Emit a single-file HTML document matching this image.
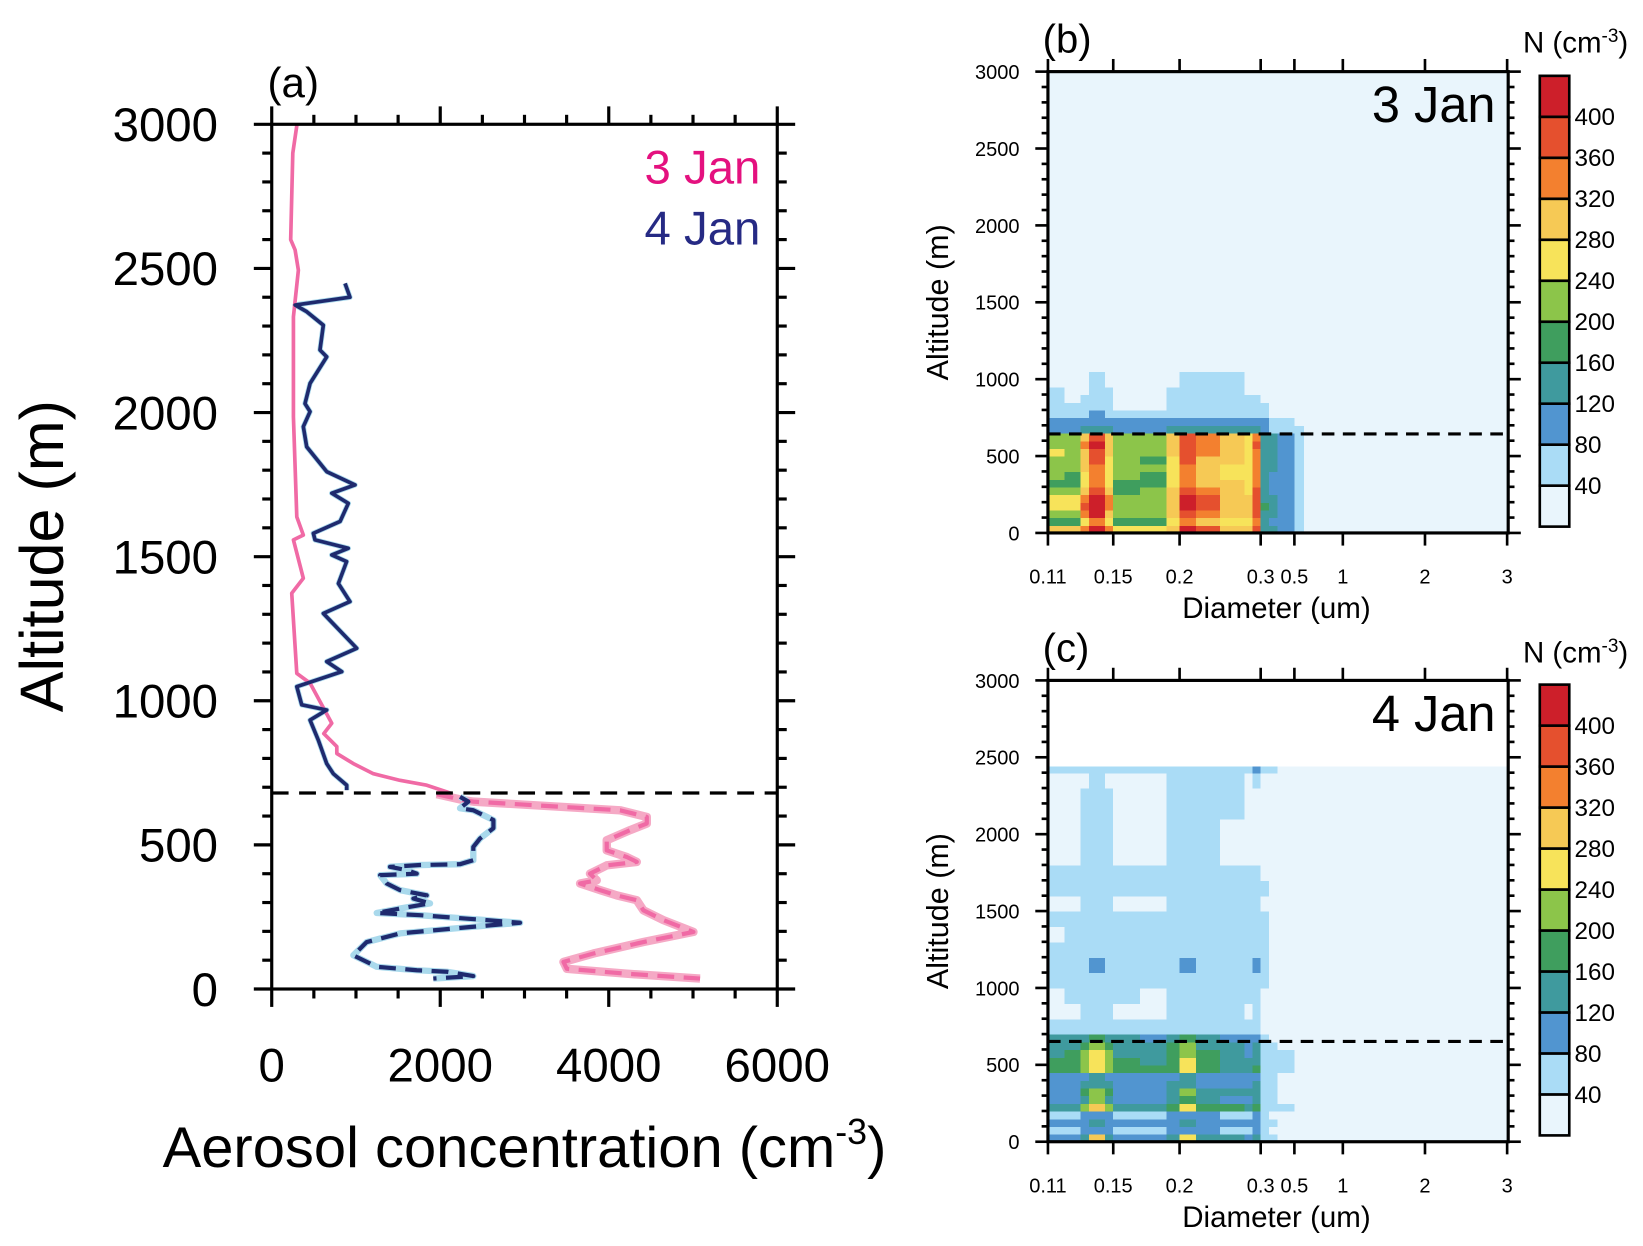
<!DOCTYPE html>
<html><head><meta charset="utf-8"><style>
html,body{margin:0;padding:0;background:#fff;}
svg{display:block;font-family:"Liberation Sans",sans-serif;}
</style></head><body>
<svg id="fig" width="1643" height="1246" viewBox="0 0 1560 1183" preserveAspectRatio="none" xmlns="http://www.w3.org/2000/svg">
<g id="pa"></g>
<g id="pb"></g>
<g id="pc"></g>
</svg>
<script>
// ---------- Panel (a) data ----------
const jan3SolidAlt  = [3000,2900,2600,2564,2494,2332,1985,1638,1575,1558,1425,1373,1095,1061,922,886,841,817,782,747,724,707,684,678];
const jan3SolidConc = [300,250,225,277,316,257,257,297,375,257,375,237,297,455,712,618,772,772,969,1206,1523,1840,2077,2136];
const jan3DashAlt  = [676,655,650,620,597,574,551,516,481,458,441,429,400,377,366,343,325,308,273,239,198,163,123,94,70,53,36];
const jan3DashConc = [1958,2274,2393,4134,4451,4451,4253,3976,3976,4214,4333,3976,3778,3858,3660,3897,4095,4333,4411,4649,5005,4411,3818,3462,3502,4214,5084];
const jan4SolidAlt  = [2448,2400,2373,2350,2303,2217,2193,2101,2031,2003,1951,1881,1795,1749,1720,1685,1622,1581,1558,1529,1506,1483,1407,1344,1303,1182,1136,1101,1049,986,968,933,864,782,747,707,690];
const jan4SolidConc = [870,929,277,415,613,573,653,455,395,455,375,415,653,989,712,909,811,494,514,909,712,889,791,929,613,1009,653,831,297,356,653,455,553,653,731,890,890];
const jan4DashAlt  = [667,650,627,620,586,558,522,493,447,433,430,424,412,400,395,366,343,325,314,297,279,264,256,239,230,216,193,163,117,77,65,60,45,36];
const jan4DashConc = [2235,2334,2235,2393,2631,2631,2473,2393,2393,2235,1760,1404,1602,1721,1286,1365,1523,1840,1681,1879,1523,1246,1760,2552,2948,2393,1523,1128,969,1246,1721,2077,2393,1918];
const aXTicks = [0,2000,4000,6000];
const aYTicks = [0,500,1000,1500,2000,2500,3000];
const aMLD = 680;

// ---------- Panels (b),(c) data ----------
const diamEdges = [0.11,0.12,0.13,0.135,0.145,0.15,0.17,0.19,0.2,0.22,0.25,0.28,0.29,0.3,0.35,0.4,0.5,0.6,0.7,1,3];
const dTickVals = [0.11,0.15,0.2,0.3,0.5,1,2,3];
const dTickLabels = ["0.11","0.15","0.2","0.3","0.5","1","2","3"];
const altTicks = [0,500,1000,1500,2000,2500,3000];
const cbLevels = [40,80,120,160,200,240,280,320,360,400];
const cbColors = ["#e9f5fc","#aadcf6","#5195d0","#3f9a9e","#3f9e5e","#8cc54a","#f7e35a","#f6c955","#f3802f","#e5502e","#cd1f2a"];

const altB = [0,50,100,150,200,250,300,350,400,450,500,550,600,650,700,750,800,850,900,950,1000,1050,1100];
const valB = [
[300,280,340,420,330,260,250,300,400,360,300,290,380,150,120,100,60,30,20,20],
[190,180,260,340,250,180,170,260,330,300,270,260,340,140,110,90,50,30,20,20],
[230,230,320,410,300,200,200,280,380,340,300,280,370,150,120,100,60,30,20,20],
[260,270,360,430,340,230,230,300,410,370,310,300,390,160,130,110,60,30,20,20],
[250,260,340,420,320,210,220,300,400,360,300,280,380,150,120,100,60,30,20,20],
[210,220,300,370,280,190,200,290,380,330,290,270,360,140,110,90,60,30,20,20],
[180,180,260,330,250,180,190,270,350,310,280,260,350,140,110,90,50,30,20,20],
[200,190,250,320,240,200,180,260,340,300,270,260,340,140,110,90,50,30,20,20],
[230,220,280,350,270,210,200,270,350,300,270,250,340,150,120,90,50,30,20,20],
[210,200,290,360,270,200,190,270,360,310,280,260,350,150,120,90,50,30,20,20],
[240,230,300,380,290,220,210,280,370,320,290,260,350,150,120,90,50,30,20,20],
[230,220,320,410,300,220,220,290,390,340,300,270,360,150,120,100,60,30,20,20],
[230,220,300,390,290,220,210,280,370,330,290,260,350,140,120,100,60,30,20,20],
[110,100,120,140,120,100,100,130,150,150,140,130,150,100,60,70,50,25,20,20],
[90,80,90,100,90,80,80,90,110,100,100,90,110,80,50,50,30,20,20,20],
[60,60,70,80,60,50,50,60,70,70,70,60,70,50,30,30,20,20,20,20],
[50,45,60,60,50,30,30,50,60,55,55,50,55,40,20,20,20,20,20,20],
[45,35,45,50,45,30,30,45,55,50,50,45,50,30,20,20,20,20,20,20],
[40,30,35,45,40,20,20,40,50,45,45,30,30,20,20,20,20,20,20,20],
[30,20,30,45,30,20,20,30,45,45,40,20,20,20,20,20,20,20,20,20],
[20,20,20,40,20,20,20,20,45,45,40,20,20,20,20,20,20,20,20,20],
[20,20,20,20,20,20,20,20,20,20,20,20,20,20,20,20,20,20,20,20]];
const mldB = 644;

const altC = [0,50,100,150,200,250,300,350,400,450,500,550,600,650,700,800,900,1000,1100,1200,1300,1400,1500,1600,1700,1800,1900,2000,2100,2200,2300,2400,2440];
const valC = [
[80,80,150,280,150,90,90,150,250,150,120,110,150,60,40,20,20,20,20,20],
[60,60,90,110,90,60,60,80,100,80,70,70,90,50,30,20,20,20,20,20],
[90,90,110,130,110,90,90,100,130,110,100,100,110,60,40,30,20,20,20,20],
[60,60,90,110,90,60,60,80,100,80,70,70,90,50,30,20,20,20,20,20],
[130,130,200,280,200,140,140,190,270,180,160,150,190,70,50,50,20,20,20,20],
[100,100,140,200,140,100,100,130,170,130,110,110,140,60,40,30,20,20,20,20],
[110,110,160,220,160,110,110,140,200,140,120,120,150,60,40,20,20,20,20,20],
[100,100,120,150,120,100,100,120,140,110,100,100,120,60,40,20,20,20,20,20],
[100,100,110,130,110,90,90,110,120,100,90,90,110,60,40,20,20,20,20,20],
[170,170,220,260,220,160,160,190,240,180,150,130,160,70,50,40,20,20,20,20],
[160,170,230,270,220,160,150,190,250,170,140,120,150,70,50,40,20,20,20,20],
[150,160,210,250,210,150,150,180,230,160,130,110,150,60,50,40,20,20,20,20],
[140,140,180,220,180,140,130,160,210,150,120,100,140,60,40,20,20,20,20,20],
[120,120,140,170,140,120,110,130,160,120,100,90,110,50,30,20,20,20,20,20],
[45,45,55,60,55,45,45,55,60,55,50,45,55,20,20,20,20,20,20,20],
[30,30,45,50,45,30,30,45,55,50,45,30,50,20,20,20,20,20,20,20],
[30,45,45,50,45,45,30,45,50,50,45,45,50,20,20,20,20,20,20,20],
[50,50,55,60,55,50,50,55,60,55,50,50,55,40,20,20,20,20,20,20],
[50,50,60,80,60,50,50,70,90,60,50,50,80,45,20,20,20,20,20,20],
[45,45,50,60,50,45,45,55,70,50,45,45,60,40,20,20,20,20,20,20],
[30,45,50,55,50,45,45,50,60,50,45,45,55,40,20,20,20,20,20,20],
[45,45,50,55,50,45,45,50,60,50,45,45,55,40,20,20,20,20,20,20],
[30,30,45,55,45,30,30,50,60,50,45,45,55,30,20,20,20,20,20,20],
[50,50,55,60,55,50,50,55,60,55,50,50,60,45,20,20,20,20,20,20],
[45,45,45,55,45,45,45,50,60,50,45,45,55,20,20,20,20,20,20,20],
[20,20,45,50,45,20,20,45,50,45,20,20,20,20,20,20,20,20,20,20],
[20,20,45,50,45,20,20,45,50,45,20,20,20,20,20,20,20,20,20,20],
[20,20,45,50,45,20,20,45,50,45,30,20,20,20,20,20,20,20,20,20],
[20,20,45,50,45,20,20,45,50,45,40,20,20,20,20,20,20,20,20,20],
[20,20,45,50,45,20,20,45,50,45,45,20,20,20,20,20,20,20,20,20],
[20,20,20,45,20,20,20,45,50,45,45,20,50,20,20,20,20,20,20,20],
[45,45,45,45,45,45,45,45,50,50,45,45,80,45,45,20,20,20,20,20]];
const mldC = 652;

const NS = "http://www.w3.org/2000/svg";
function mk(parent, tag, attrs, text){
  const e = document.createElementNS(NS, tag);
  for (const k in attrs) e.setAttribute(k, attrs[k]);
  if (text !== undefined) e.textContent = text;
  parent.appendChild(e);
  return e;
}

// ---------- Panel (a) ----------
(function(){
  const g = document.getElementById('pa');
  const L=258,R=738,T=118,B=939;
  const xa = v => L + (v/6000)*(R-L);
  const ya = v => B - (v/3000)*(B-T);
  const ptsStr = (alt,conc) => alt.map((a,i)=>xa(conc[i]).toFixed(1)+","+ya(a).toFixed(1)).join(" ");
  const tk = mk(g,'g',{stroke:'#000','stroke-width':3});
  
  
  for (let v=0; v<=3000; v+=100){
    const major = v%500===0, len = major?17:9, y=ya(v);
    mk(tk,'line',{x1:L-len,y1:y,x2:L,y2:y});
    mk(tk,'line',{x1:R,y1:y,x2:R+len,y2:y});
  }
  for (let v=0; v<=6000; v+=500){
    const major = v%2000===0, len = major?17:9, x=xa(v);
    mk(tk,'line',{x1:x,y1:T-len,x2:x,y2:T});
    mk(tk,'line',{x1:x,y1:B,x2:x,y2:B+len});
  }
  const b1 = mk(g,'polyline',{points:ptsStr(jan3DashAlt,jan3DashConc),fill:'none',stroke:'#f5a9c5','stroke-width':8,'stroke-linejoin':'round'});
  
  
  const b2 = mk(g,'polyline',{points:ptsStr(jan4DashAlt,jan4DashConc),fill:'none',stroke:'#a9d9ec','stroke-width':6,'stroke-linejoin':'round'});
  
  
  const b3 = mk(g,'polyline',{points:ptsStr(jan4SolidAlt,jan4SolidConc),fill:'none',stroke:'#a9d9ec','stroke-width':5,'stroke-linejoin':'round'});
  
  
  const l1 = mk(g,'polyline',{points:ptsStr(jan3SolidAlt,jan3SolidConc),fill:'none',stroke:'#f06aa5','stroke-width':3.5,'stroke-linejoin':'round'});
  
  
  const l2 = mk(g,'polyline',{points:ptsStr(jan3DashAlt,jan3DashConc),fill:'none',stroke:'#f06aa5','stroke-width':4,'stroke-dasharray':'16,9','stroke-linejoin':'round'});
  
  
  const l3 = mk(g,'polyline',{points:ptsStr(jan4SolidAlt,jan4SolidConc),fill:'none',stroke:'#1f2a6e','stroke-width':3.5,'stroke-linejoin':'round'});
  
  
  const l4 = mk(g,'polyline',{points:ptsStr(jan4DashAlt,jan4DashConc),fill:'none',stroke:'#1f2a6e','stroke-width':4,'stroke-dasharray':'16,9','stroke-linejoin':'round'});
  
  
  const ml = mk(g,'line',{x1:L,x2:R,y1:ya(aMLD),y2:ya(aMLD),stroke:'#000','stroke-width':3,'stroke-dasharray':'16,10'});
  
  
  const fr = mk(g,'rect',{x:L,y:T,width:R-L,height:B-T,fill:'none',stroke:'#000','stroke-width':3});
  
  
  aYTicks.forEach(v=>{
    const t = mk(g,'text',{x:207,y:ya(v)+16,'font-size':45,'text-anchor':'end'},String(v));
    
    
  });
  aXTicks.forEach(v=>{
    const t = mk(g,'text',{x:xa(v),y:1027,'font-size':45,'text-anchor':'middle'},String(v));
    
    
  });
})();

// ---------- Panels (b),(c) ----------
function drawSize(gid, top, alts, vals, mld, bgColor){
  const g = document.getElementById(gid);
  const L=995,R=1432,T=top,B=top+438;
  const tickPx = [995,1057,1120,1197,1229,1275,1353,1431];
  const dx = d => {
    for (let i=0;i<dTickVals.length-1;i++){
      if (d<=dTickVals[i+1]){
        const f=(d-dTickVals[i])/(dTickVals[i+1]-dTickVals[i]);
        return tickPx[i]+f*(tickPx[i+1]-tickPx[i]);
      }
    }
    return tickPx[tickPx.length-1];
  };
  const ay = a => B - (a/3000)*(B-T);
  const colorOf = v => { let k=0; while(k<cbLevels.length && v>=cbLevels[k]) k++; return cbColors[k]; };
  const bg = mk(g,'rect',{x:L,y:T,width:R-L,height:B-T,fill:bgColor});
  
  
  const cells = mk(g,'g',{'shape-rendering':'crispEdges'});
  
  
  for (let r=0;r<vals.length;r++){
    const y1=ay(alts[r+1]), y0=ay(alts[r]);
    for (let c=0;c<vals[r].length;c++){
      const x0=dx(diamEdges[c]), x1=dx(diamEdges[c+1]);
      const cell = mk(cells,'rect',{x:x0.toFixed(2),y:y1.toFixed(2),width:(x1-x0+0.6).toFixed(2),height:(y0-y1+0.6).toFixed(2),fill:colorOf(vals[r][c])});
      
      
    }
  }
  const ml = mk(g,'line',{x1:L,x2:R,y1:ay(mld),y2:ay(mld),stroke:'#000','stroke-width':3,'stroke-dasharray':'12,8'});
  
  
  const tk = mk(g,'g',{stroke:'#000','stroke-width':2.5});
  
  
  for (let v=0; v<=3000; v+=100){
    const major = v%500===0, len = major?12:6, y=ay(v);
    mk(tk,'line',{x1:L-len,y1:y,x2:L,y2:y});
    mk(tk,'line',{x1:R,y1:y,x2:R+len,y2:y});
  }
  dTickVals.forEach(d=>{
    const x=dx(d);
    mk(tk,'line',{x1:x,y1:T-12,x2:x,y2:T});
    mk(tk,'line',{x1:x,y1:B,x2:x,y2:B+12});
  });
  const fr = mk(g,'rect',{x:L,y:T,width:R-L,height:B-T,fill:'none',stroke:'#000','stroke-width':3});
  
  
  altTicks.forEach(v=>{
    const t = mk(g,'text',{x:968,y:ay(v)+7,'font-size':19,'text-anchor':'end'},String(v));
    
    
  });
  dTickVals.forEach((d,i)=>{
    const t = mk(g,'text',{x:dx(d),y:B+48,'font-size':19,'text-anchor':'middle'},dTickLabels[i]);
    
    
  });
  const cb = mk(g,'g',{});
  
  
  const cbT=top+4, cbB=top+432, bh=(cbB-cbT)/cbColors.length;
  cbColors.forEach((col,i)=>{
    const y = cbB-(i+1)*bh;
    const box = mk(cb,'rect',{x:1462,y:y,width:28,height:bh,fill:col,stroke:'#000','stroke-width':2.5});
    
    
  });
  cbLevels.forEach((lv,i)=>{
    const t = mk(cb,'text',{x:1495,y:cbB-(i+1)*bh+8,'font-size':23},String(lv));
    
    
  });
}
drawSize('pb',68,altB,valB,mldB,'#e9f5fc');
drawSize('pc',646,altC,valC,mldC,'#ffffff');

// static labels
(function(){
  const fig = document.getElementById('fig');
  function txt(name, attrs, content, sup){
    const t=document.createElementNS(NS,'text');
    for (const k in attrs) t.setAttribute(k,attrs[k]);
    
    
    t.appendChild(document.createTextNode(content));
    if (sup){
      const s=document.createElementNS(NS,'tspan');
      s.setAttribute('dy', sup.dy); s.setAttribute('font-size', sup.fs);
      s.textContent=sup.t;
      t.appendChild(s);
      const s2=document.createElementNS(NS,'tspan');
      s2.setAttribute('dy', -sup.dy);
      s2.textContent=sup.after;
      t.appendChild(s2);
    }
    fig.appendChild(t);
  }
  txt('panel-a-label',{x:254,y:92,'font-size':40},'(a)');
  txt('legend-3-jan',{x:722,y:174,'font-size':45,fill:'#e4117f','text-anchor':'end'},'3 Jan');
  txt('legend-4-jan',{x:722,y:232,'font-size':45,fill:'#262a84','text-anchor':'end'},'4 Jan');
  txt('x-axis-title',{x:498,y:1108,'font-size':55,'text-anchor':'middle'},'Aerosol concentration (cm',{dy:-22,fs:34,t:'-3',after:')'});
  txt('y-axis-title',{x:0,y:0,'font-size':58,'text-anchor':'middle',transform:'translate(60,528) rotate(-90)'},'Altitude (m)');
  txt('panel-b-label',{x:990,y:50,'font-size':38},'(b)');
  txt('panel-c-label',{x:990,y:628,'font-size':38},'(c)');
  txt('date-3-jan',{x:1420,y:116,'font-size':48,'text-anchor':'end'},'3 Jan');
  txt('date-4-jan',{x:1420,y:694,'font-size':48,'text-anchor':'end'},'4 Jan');
  txt('x-axis-title-b',{x:1212,y:587,'font-size':28,'text-anchor':'middle'},'Diameter (um)');
  txt('x-axis-title-c',{x:1212,y:1165,'font-size':28,'text-anchor':'middle'},'Diameter (um)');
  txt('y-axis-title-b',{x:0,y:0,'font-size':29,'text-anchor':'middle',transform:'translate(900,287) rotate(-90)'},'Altitude (m)');
  txt('y-axis-title-c',{x:0,y:0,'font-size':29,'text-anchor':'middle',transform:'translate(900,865) rotate(-90)'},'Altitude (m)');
  txt('colorbar-title-b',{x:1496,y:50,'font-size':28,'text-anchor':'middle'},'N (cm',{dy:-10,fs:18,t:'-3',after:')'});
  txt('colorbar-title-c',{x:1496,y:629,'font-size':28,'text-anchor':'middle'},'N (cm',{dy:-10,fs:18,t:'-3',after:')'});
})();
</script>
</body></html>
